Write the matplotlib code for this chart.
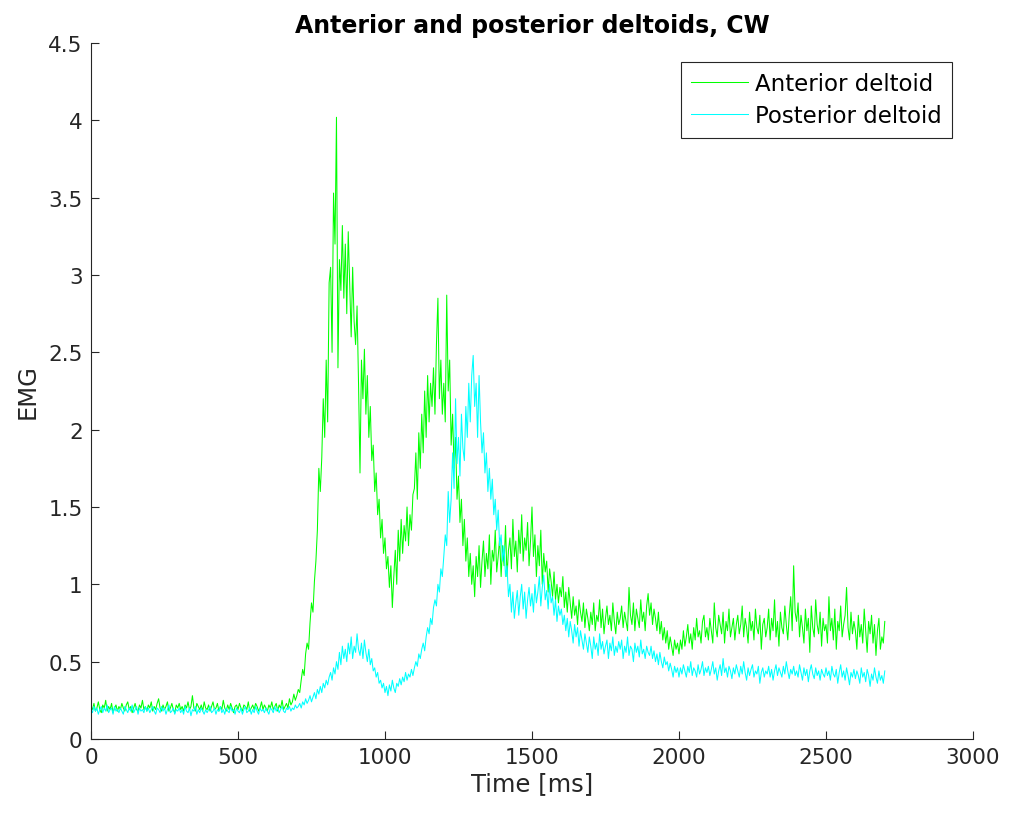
import numpy as np
import matplotlib
matplotlib.use("Agg")
import matplotlib.pyplot as plt
from matplotlib.ticker import FuncFormatter

# EMG values, one value every 5 ms (0 .. 2700 ms)
step_ms = 5

anterior = [
    0.21, 0.19, 0.23, 0.18, 0.20, 0.24, 0.19, 0.17, 0.22, 0.20,   # 0
    0.25, 0.18, 0.21, 0.19, 0.23, 0.17, 0.20, 0.22, 0.18, 0.21,
    0.19, 0.23, 0.20, 0.18, 0.22, 0.24, 0.19, 0.21, 0.17, 0.20,   # 100
    0.23, 0.19, 0.18, 0.22, 0.20, 0.25, 0.19, 0.21, 0.18, 0.22,
    0.20, 0.24, 0.18, 0.21, 0.19, 0.23, 0.26, 0.20, 0.18, 0.22,   # 200
    0.19, 0.21, 0.24, 0.18, 0.20, 0.23, 0.19, 0.17, 0.22, 0.20,
    0.23, 0.19, 0.21, 0.18, 0.22, 0.20, 0.24, 0.19, 0.21, 0.28,   # 300
    0.20, 0.18, 0.23, 0.21, 0.19, 0.22, 0.18, 0.24, 0.20, 0.19,
    0.22, 0.18, 0.21, 0.24, 0.19, 0.20, 0.23, 0.18, 0.21, 0.19,   # 400
    0.25, 0.20, 0.18, 0.22, 0.19, 0.23, 0.20, 0.17, 0.21, 0.22,
    0.19, 0.23, 0.20, 0.18, 0.22, 0.21, 0.19, 0.24, 0.18, 0.20,   # 500
    0.22, 0.19, 0.23, 0.21, 0.18, 0.20, 0.24, 0.19, 0.22, 0.20,
    0.18, 0.22, 0.20, 0.24, 0.19, 0.21, 0.23, 0.18, 0.22, 0.20,   # 600
    0.25, 0.19, 0.21, 0.23, 0.20, 0.26, 0.22, 0.24, 0.29, 0.25,
    0.28, 0.32, 0.30, 0.38, 0.45, 0.41, 0.55, 0.62, 0.58, 0.75,   # 700
    0.88, 0.82, 1.02, 1.15, 1.35, 1.75, 1.60, 1.82, 2.20, 1.95,
    2.45, 2.05, 2.95, 3.05, 2.50, 3.53, 3.20, 4.02, 2.40, 3.10,   # 800
    2.90, 3.32, 2.85, 3.20, 2.75, 3.28, 2.95, 2.60, 3.05, 2.70,
    2.55, 2.80, 2.30, 1.72, 2.45, 2.20, 2.52, 2.10, 2.35, 1.95,   # 900
    2.15, 1.80, 1.90, 1.60, 1.72, 1.45, 1.55, 1.30, 1.42, 1.20,
    1.30, 1.10, 1.18, 0.98, 1.12, 0.85, 1.05, 1.22, 1.00, 1.35,   # 1000
    1.15, 1.42, 1.20, 1.38, 1.28, 1.50, 1.25, 1.45, 1.35, 1.58,
    1.62, 1.85, 1.55, 1.98, 1.75, 2.10, 1.85, 2.25, 1.95, 2.35,   # 1100
    2.05, 2.30, 2.15, 2.40, 2.10, 2.55, 2.85, 2.20, 2.45, 2.10,
    2.30, 2.05, 2.87, 2.25, 2.45, 1.90, 2.10, 1.75, 1.95, 1.55,   # 1200
    1.70, 1.40, 1.55, 1.25, 1.42, 1.15, 1.30, 1.05, 1.20, 1.00,
    1.12, 0.92, 1.18, 1.05, 1.25, 0.98, 1.15, 1.28, 1.05, 1.20,   # 1300
    1.10, 1.32, 1.00, 1.22, 1.15, 1.35, 1.08, 1.18, 1.30, 1.05,
    1.25, 1.12, 1.38, 1.05, 1.22, 1.30, 1.10, 1.42, 1.18, 1.28,   # 1400
    1.08, 1.35, 1.20, 1.45, 1.15, 1.30, 1.22, 1.40, 1.12, 1.28,
    1.50, 1.18, 1.32, 1.05, 1.25, 1.12, 1.35, 1.00, 1.20, 1.08,   # 1500
    1.15, 0.95, 1.10, 1.02, 0.92, 1.08, 0.90, 1.00, 0.88, 0.98,
    0.92, 1.05, 0.85, 0.95, 0.82, 0.98, 0.88, 0.78, 0.92, 0.80,   # 1600
    0.86, 0.74, 0.90, 0.82, 0.76, 0.88, 0.72, 0.84, 0.78, 0.70,
    0.82, 0.74, 0.88, 0.70, 0.80, 0.76, 0.90, 0.72, 0.84, 0.68,   # 1700
    0.78, 0.86, 0.74, 0.80, 0.70, 0.88, 0.76, 0.68, 0.82, 0.74,
    0.78, 0.86, 0.72, 0.82, 0.76, 0.70, 0.98, 0.80, 0.74, 0.88,   # 1800
    0.70, 0.84, 0.78, 0.72, 0.90, 0.76, 0.82, 0.70, 0.86, 0.94,
    0.80, 0.88, 0.74, 0.84, 0.78, 0.70, 0.82, 0.68, 0.76, 0.64,   # 1900
    0.72, 0.62, 0.70, 0.58, 0.66, 0.60, 0.54, 0.64, 0.58, 0.62,
    0.55, 0.64, 0.58, 0.70, 0.60, 0.66, 0.74, 0.62, 0.68, 0.58,   # 2000
    0.72, 0.64, 0.78, 0.66, 0.70, 0.62, 0.76, 0.80, 0.66, 0.72,
    0.64, 0.78, 0.70, 0.62, 0.88, 0.72, 0.66, 0.80, 0.74, 0.68,   # 2100
    0.82, 0.62, 0.76, 0.70, 0.84, 0.66, 0.72, 0.78, 0.64, 0.74,
    0.80, 0.68, 0.74, 0.86, 0.66, 0.78, 0.72, 0.62, 0.82, 0.70,   # 2200
    0.76, 0.64, 0.84, 0.72, 0.68, 0.80, 0.58, 0.74, 0.78, 0.66,
    0.72, 0.84, 0.64, 0.78, 0.70, 0.90, 0.66, 0.76, 0.60, 0.82,   # 2300
    0.72, 0.68, 0.86, 0.74, 0.64, 0.80, 0.92, 0.70, 1.12, 0.82,
    0.76, 0.88, 0.66, 0.80, 0.72, 0.62, 0.84, 0.70, 0.78, 0.56,   # 2400
    0.86, 0.72, 0.66, 0.90, 0.74, 0.68, 0.82, 0.60, 0.78, 0.70,
    0.74, 0.62, 0.92, 0.70, 0.78, 0.64, 0.84, 0.58, 0.76, 0.70,   # 2500
    0.86, 0.66, 0.74, 0.80, 0.98, 0.72, 0.64, 0.82, 0.68, 0.76,
    0.70, 0.58, 0.80, 0.66, 0.74, 0.62, 0.84, 0.70, 0.56, 0.76,   # 2600
    0.68, 0.80, 0.62, 0.74, 0.54, 0.70, 0.78, 0.58, 0.66, 0.62,
    0.76,                                                         # 2700
]

posterior = [
    0.19, 0.17, 0.21, 0.18, 0.20, 0.16, 0.19, 0.21, 0.17, 0.20,   # 0
    0.18, 0.22, 0.17, 0.19, 0.20, 0.16, 0.21, 0.18, 0.19, 0.17,
    0.20, 0.18, 0.16, 0.21, 0.19, 0.17, 0.20, 0.18, 0.22, 0.17,   # 100
    0.19, 0.21, 0.16, 0.20, 0.18, 0.19, 0.17, 0.21, 0.18, 0.20,
    0.17, 0.19, 0.21, 0.18, 0.16, 0.20, 0.19, 0.17, 0.21, 0.18,   # 200
    0.20, 0.16, 0.19, 0.22, 0.17, 0.18, 0.20, 0.16, 0.19, 0.18,
    0.20, 0.17, 0.19, 0.16, 0.21, 0.18, 0.17, 0.20, 0.15, 0.19,   # 300
    0.18, 0.21, 0.16, 0.19, 0.17, 0.20, 0.18, 0.16, 0.19, 0.17,
    0.19, 0.21, 0.17, 0.18, 0.20, 0.16, 0.19, 0.18, 0.21, 0.17,   # 400
    0.19, 0.16, 0.20, 0.18, 0.17, 0.21, 0.18, 0.19, 0.16, 0.20,
    0.18, 0.17, 0.20, 0.16, 0.19, 0.21, 0.17, 0.18, 0.20, 0.16,   # 500
    0.19, 0.17, 0.21, 0.18, 0.16, 0.20, 0.18, 0.19, 0.17, 0.20,
    0.18, 0.16, 0.20, 0.19, 0.17, 0.21, 0.18, 0.20, 0.17, 0.19,   # 600
    0.21, 0.18, 0.17, 0.20, 0.19, 0.21, 0.18, 0.20, 0.19, 0.22,
    0.20, 0.21, 0.23, 0.20, 0.24, 0.22, 0.26, 0.23, 0.25, 0.28,   # 700
    0.24, 0.27, 0.30, 0.26, 0.32, 0.29, 0.34, 0.30, 0.36, 0.33,
    0.38, 0.35, 0.40, 0.43, 0.38, 0.46, 0.42, 0.50, 0.45, 0.56,   # 800
    0.48, 0.60, 0.52, 0.58, 0.50, 0.62, 0.55, 0.66, 0.52, 0.60,
    0.56, 0.68, 0.58, 0.54, 0.62, 0.52, 0.64, 0.56, 0.50, 0.58,   # 900
    0.48, 0.52, 0.44, 0.46, 0.40, 0.43, 0.36, 0.38, 0.33, 0.36,
    0.30, 0.34, 0.28, 0.35, 0.31, 0.38, 0.33, 0.30, 0.36, 0.34,   # 1000
    0.39, 0.35, 0.40, 0.37, 0.43, 0.38, 0.42, 0.40, 0.45, 0.41,
    0.46, 0.50, 0.47, 0.55, 0.52, 0.58, 0.62, 0.57, 0.66, 0.72,   # 1100
    0.68, 0.78, 0.74, 0.85, 0.90, 0.86, 1.00, 0.95, 1.10, 1.05,
    1.18, 1.32, 1.25, 1.60, 1.40, 1.55, 1.85, 1.62, 2.20, 1.78,   # 1200
    1.95, 1.70, 2.10, 1.88, 1.80, 2.15, 1.95, 2.30, 2.05, 2.35,
    2.48, 2.15, 2.30, 1.95, 2.35, 2.05, 1.85, 1.98, 1.72, 1.85,   # 1300
    1.60, 1.75, 1.55, 1.68, 1.45, 1.55, 1.35, 1.48, 1.25, 1.32,
    1.15, 1.25, 1.05, 1.12, 0.92, 1.00, 0.82, 0.95, 0.78, 0.88,   # 1400
    0.96, 0.80, 0.92, 1.00, 0.84, 0.95, 0.78, 0.90, 0.98, 0.86,
    0.94, 0.82, 1.00, 0.88, 0.95, 1.05, 0.86, 0.98, 1.06, 0.90,   # 1500
    0.96, 0.84, 1.00, 0.88, 0.92, 0.80, 0.90, 0.76, 0.86, 0.80,
    0.84, 0.74, 0.80, 0.70, 0.78, 0.66, 0.76, 0.70, 0.62, 0.74,   # 1600
    0.66, 0.72, 0.60, 0.70, 0.64, 0.58, 0.68, 0.62, 0.56, 0.66,
    0.60, 0.52, 0.66, 0.58, 0.62, 0.54, 0.68, 0.58, 0.63, 0.55,   # 1700
    0.60, 0.64, 0.52, 0.62, 0.57, 0.66, 0.54, 0.60, 0.56, 0.63,
    0.58, 0.64, 0.52, 0.60, 0.56, 0.66, 0.54, 0.60, 0.58, 0.50,   # 1800
    0.62, 0.56, 0.60, 0.53, 0.64, 0.55, 0.58, 0.52, 0.60, 0.56,
    0.54, 0.60, 0.52, 0.57, 0.50, 0.55, 0.48, 0.56, 0.50, 0.46,   # 1900
    0.53, 0.48, 0.50, 0.44, 0.49, 0.45, 0.40, 0.47, 0.43, 0.46,
    0.40, 0.46, 0.42, 0.48, 0.44, 0.40, 0.47, 0.43, 0.50, 0.41,   # 2000
    0.46, 0.44, 0.40, 0.48, 0.42, 0.45, 0.50, 0.41, 0.46, 0.43,
    0.47, 0.41, 0.45, 0.50, 0.42, 0.46, 0.38, 0.44, 0.48, 0.41,   # 2100
    0.52, 0.43, 0.46, 0.40, 0.47, 0.44, 0.39, 0.46, 0.42, 0.48,
    0.44, 0.40, 0.47, 0.42, 0.50, 0.43, 0.38, 0.46, 0.41, 0.45,   # 2200
    0.48, 0.40, 0.44, 0.42, 0.47, 0.36, 0.43, 0.46, 0.40, 0.44,
    0.42, 0.47, 0.40, 0.45, 0.38, 0.44, 0.48, 0.41, 0.46, 0.43,   # 2300
    0.40, 0.47, 0.42, 0.50, 0.44, 0.39, 0.45, 0.42, 0.47, 0.41,
    0.44, 0.40, 0.48, 0.43, 0.38, 0.46, 0.41, 0.45, 0.37, 0.44,   # 2400
    0.48, 0.42, 0.39, 0.46, 0.41, 0.44, 0.38, 0.45, 0.42, 0.40,
    0.46, 0.41, 0.44, 0.38, 0.47, 0.42, 0.40, 0.45, 0.36, 0.43,   # 2500
    0.48, 0.40, 0.44, 0.38, 0.46, 0.41, 0.35, 0.43, 0.40, 0.45,
    0.39, 0.44, 0.41, 0.36, 0.46, 0.40, 0.43, 0.37, 0.45, 0.41,   # 2600
    0.34, 0.42, 0.38, 0.46, 0.40, 0.36, 0.44, 0.38, 0.41, 0.36,
    0.44,                                                         # 2700
]

x_ticks = [0, 500, 1000, 1500, 2000, 2500, 3000]
y_ticks = [0, 0.5, 1, 1.5, 2, 2.5, 3, 3.5, 4, 4.5]

t_ant = np.arange(len(anterior)) * step_ms
t_post = np.arange(len(posterior)) * step_ms

plt.rcParams['font.family'] = ['DejaVu Sans']
axcol = "#262626"

fig = plt.figure(figsize=(10.11, 8.2), dpi=100)
ax = fig.add_axes([0.090, 0.0976, 0.8724, 0.8487])

ax.plot(t_ant, anterior, color="#00ff00", lw=0.75, label="Anterior deltoid")
ax.plot(t_post, posterior, color="#00ffff", lw=0.75, label="Posterior deltoid")

ax.set_xlim(0, 3000)
ax.set_ylim(0, 4.5)
ax.set_xticks(x_ticks)
ax.set_yticks(y_ticks)
ax.yaxis.set_major_formatter(FuncFormatter(lambda v, p: "%g" % v))

for s in ["top", "right"]:
    ax.spines[s].set_visible(False)
for s in ["left", "bottom"]:
    ax.spines[s].set_color(axcol)
    ax.spines[s].set_linewidth(0.8)
ax.tick_params(direction="in", length=6, width=0.8, colors=axcol,
               labelsize=15.5, pad=6)

ax.set_xlabel("Time [ms]", fontsize=17.5, color=axcol, labelpad=3)
ax.set_ylabel("EMG", fontsize=17.5, color=axcol, labelpad=6)
ax.set_title("Anterior and posterior deltoids, CW", fontsize=17,
             fontweight="bold", pad=8)

leg = ax.legend(loc="upper right", bbox_to_anchor=(0.9765, 0.973),
                fontsize=16.5, fancybox=False, framealpha=1,
                edgecolor=axcol, handlelength=2.5, borderpad=0.45,
                labelspacing=0.4, handletextpad=0.3, borderaxespad=0)
leg.get_frame().set_linewidth(0.8)

fig.savefig("out.png", dpi=100)
